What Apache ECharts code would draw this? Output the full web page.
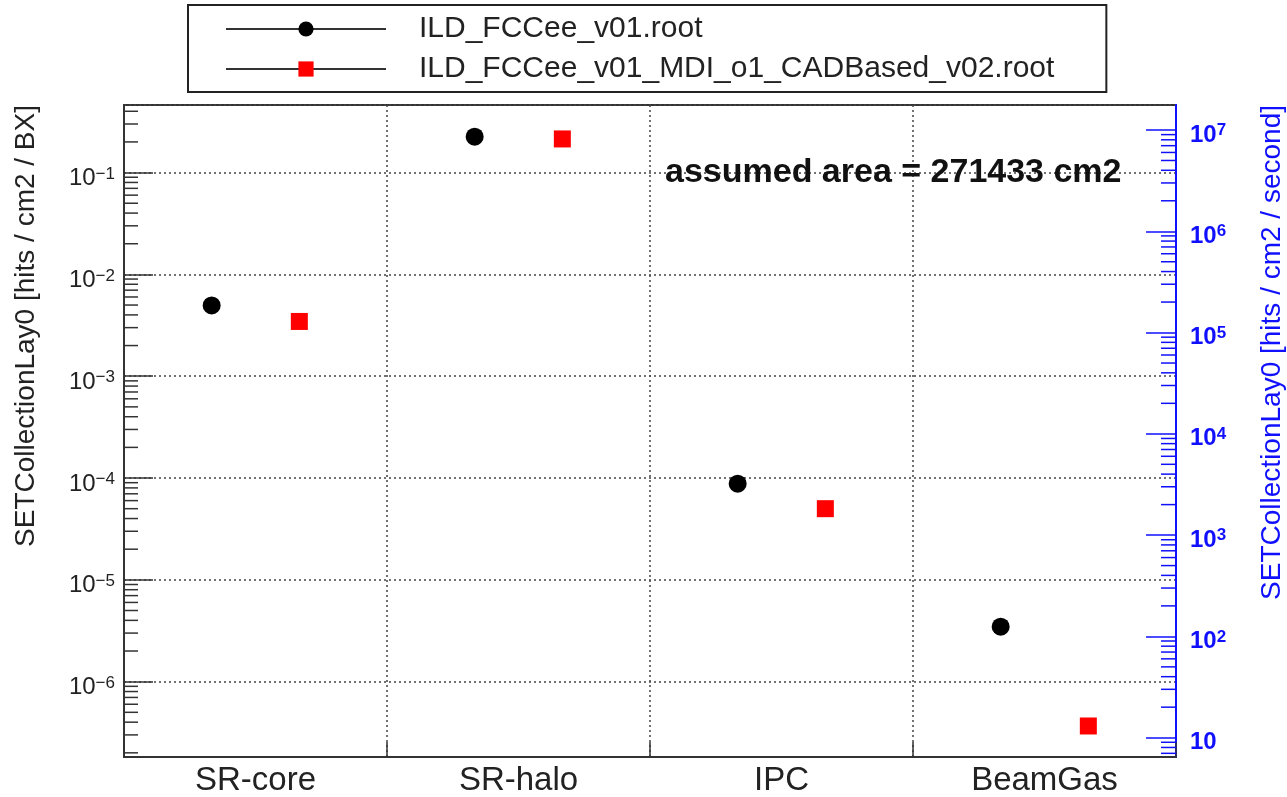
<!DOCTYPE html>
<html>
<head>
<meta charset="utf-8">
<title>SETCollectionLay0</title>
<script src="https://cdn.jsdelivr.net/npm/echarts@6.0.0/dist/echarts.min.js"></script>
<style>
  html, body { margin: 0; padding: 0; background: #fff; }
  #chart { width: 1287px; height: 797px; }
</style>
</head>
<body>
<div id="chart"></div>
<script>
// background sources, one bin each
const categories = ['SR-core', 'SR-halo', 'IPC', 'BeamGas'];
// hits / cm2 / BX
const v01Values = [4.95e-3, 0.225, 8.8e-5, 3.47e-6];
const cadValues = [3.45e-3, 0.214, 5.0e-5, 3.67e-7];
const seriesNames = ['ILD_FCCee_v01.root', 'ILD_FCCee_v01_MDI_o1_CADBased_v02.root'];
// axis ranges (left: per BX, right: per second)
const leftRange = [1.82e-7, 0.461];
const rightRange = [6.44, 1.765e7];
const minorMantissas = [2, 3, 4, 5, 6, 7, 8, 9];
const areaText = 'assumed area = 271433 cm2';
const leftTitle = 'SETCollectionLay0 [hits / cm2 / BX]';
const rightTitle = 'SETCollectionLay0 [hits / cm2 / second]';

const FONT = '"Liberation Sans", Arial, sans-serif';
const BLUE = '#1010ff';
const FRAME = '#333';

function minorTicks(range) {
    let out = [];
    let lo = Math.floor(Math.log10(range[0]));
    let hi = Math.ceil(Math.log10(range[1]));
    for (let e = lo; e <= hi; e++) {
        minorMantissas.forEach(m => {
            let v = m * Math.pow(10, e);
            if (v > range[0] && v < range[1]) out.push(v);
        });
    }
    return out;
}

function powLabel(v) {
    let e = Math.log10(v);
    let r = Math.round(e);
    if (Math.abs(e - r) > 1e-6) return '';
    if (r === 1) return '{b|10}';
    return '{b|10}{s|' + (r < 0 ? '\u2212' + (-r) : r) + '}';
}

function tickSeries(values, yIndex, xAt, len, color) {
    return {
        type: 'custom',
        silent: true,
        xAxisIndex: 0,
        yAxisIndex: yIndex,
        z: 3,
        clip: false,
        data: values.map(v => [xAt, v]),
        renderItem: function (params, api) {
            let p = api.coord([api.value(0), api.value(1)]);
            return {
                type: 'line',
                shape: { x1: p[0], y1: p[1], x2: p[0] + len, y2: p[1] },
                style: { stroke: color, lineWidth: 1.5 }
            };
        }
    };
}

let myChart = echarts.init(document.getElementById('chart'));

let options = {
    animation: false,
    backgroundColor: '#fff',
    grid: {
        left: 124, right: 111, top: 105, bottom: 40,
        show: true, borderColor: FRAME, borderWidth: 2,
        containLabel: false, outerBoundsMode: 'none'
    },
    legend: {
        data: seriesNames,
        orient: 'vertical',
        left: 188,
        top: 5,
        padding: [9, 52, 8, 37],
        itemWidth: 160,
        itemHeight: 19,
        itemGap: 10,
        borderColor: '#222',
        borderWidth: 2,
        selectedMode: false,
        lineStyle: { color: '#333', width: 2, opacity: 1 },
        textStyle: { fontSize: 30, color: '#222', fontFamily: FONT, lineHeight: 30, padding: [0, 0, 0, 28] }
    },
    xAxis: [
        {
            type: 'value', min: 0, max: 4, interval: 1, position: 'bottom',
            axisLine: { show: true, lineStyle: { color: FRAME, width: 2 } },
            axisTick: { show: true, inside: true, length: 15, lineStyle: { color: FRAME, width: 1.5 } },
            axisLabel: { show: false },
            splitLine: { show: true, lineStyle: { color: '#444', type: [2, 3], width: 1.5 } }
        },
        {
            type: 'category', data: categories, position: 'bottom', offset: 0, boundaryGap: true,
            axisLine: { show: false },
            axisTick: { show: false },
            splitLine: { show: false },
            axisLabel: { fontSize: 33, color: '#222', fontFamily: FONT, margin: 7 }
        }
    ],
    yAxis: [
        {
            type: 'log', logBase: 10, min: leftRange[0], max: leftRange[1], position: 'left',
            axisLine: { show: true, lineStyle: { color: FRAME, width: 2 } },
            axisTick: { show: true, inside: true, length: 29, lineStyle: { color: FRAME, width: 1.5 } },
            axisLabel: {
                formatter: powLabel, margin: 9, showMinLabel: false, showMaxLabel: false,
                padding: [12, 0, 0, 0],
                rich: {
                    b: { fontSize: 24, color: '#222', fontFamily: FONT, lineHeight: 26 },
                    s: { fontSize: 17, color: '#222', fontFamily: FONT, verticalAlign: 'top', lineHeight: 18 }
                }
            },
            splitLine: { show: true, lineStyle: { color: '#444', type: [2, 3], width: 1.5 } }
        },
        {
            type: 'log', logBase: 10, min: rightRange[0], max: rightRange[1], position: 'right',
            axisLine: { show: true, lineStyle: { color: BLUE, width: 2 } },
            axisTick: { show: true, inside: true, length: 30, lineStyle: { color: BLUE, width: 1.5 } },
            axisLabel: {
                formatter: powLabel, margin: 14, showMinLabel: false, showMaxLabel: false,
                padding: [10, 0, 0, 0],
                rich: {
                    b: { fontSize: 24, color: BLUE, fontWeight: 'bold', fontFamily: FONT, lineHeight: 26 },
                    s: { fontSize: 17, color: BLUE, fontWeight: 'bold', fontFamily: FONT, verticalAlign: 'top', lineHeight: 18 }
                }
            },
            splitLine: { show: false }
        }
    ],
    graphic: [
        {
            type: 'text', x: 665, y: 173, z: 10,
            style: { text: areaText, font: 'bold 34px ' + FONT, fill: '#111',
                     verticalAlign: 'middle', textVerticalAlign: 'middle' }
        },
        {
            type: 'text', x: 26, y: 105, rotation: Math.PI / 2,
            style: { text: leftTitle, font: '28px ' + FONT, fill: '#222',
                     align: 'right', textAlign: 'right', verticalAlign: 'middle', textVerticalAlign: 'middle' }
        },
        {
            type: 'text', x: 1272, y: 105, rotation: Math.PI / 2,
            style: { text: rightTitle, font: '28px ' + FONT, fill: BLUE,
                     align: 'right', textAlign: 'right', verticalAlign: 'middle', textVerticalAlign: 'middle' }
        }
    ],
    series: [
        {
            name: seriesNames[0], type: 'line', xAxisIndex: 0, yAxisIndex: 0,
            data: v01Values.map((v, i) => [i + 1 / 3, v]),
            symbol: 'circle', symbolSize: 18, showAllSymbol: true, z: 5,
            itemStyle: { color: '#000' },
            lineStyle: { width: 0, opacity: 0 }
        },
        {
            name: seriesNames[1], type: 'line', xAxisIndex: 0, yAxisIndex: 0,
            data: cadValues.map((v, i) => [i + 2 / 3, v]),
            symbol: 'rect', symbolSize: 17, showAllSymbol: true, z: 5,
            itemStyle: { color: '#ff0000' },
            lineStyle: { width: 0, opacity: 0 }
        },
        tickSeries(minorTicks(leftRange), 0, 0, 14, FRAME),
        tickSeries(minorTicks(rightRange), 1, 4, -15, BLUE)
    ]
};

myChart.setOption(options);
</script>
</body>
</html>
